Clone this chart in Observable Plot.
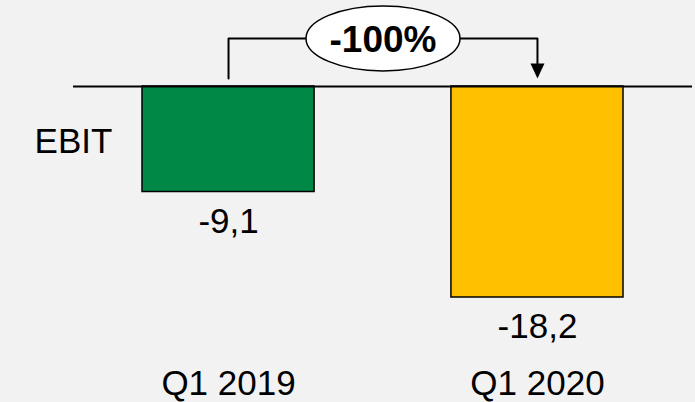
<!DOCTYPE html>
<html><head><meta charset="utf-8">
<script src="https://cdn.jsdelivr.net/npm/d3@7"></script>
<script src="https://cdn.jsdelivr.net/npm/@observablehq/plot@0.6"></script>
<style>html,body{margin:0;padding:0;background:#f2f2f2;}</style>
</head><body><div id="chart"></div>
<script>
const categories = ["Q1 2019", "Q1 2020"];
const values = [-9.1, -18.2];
const barColors = ["#008846", "#FFC000"];
const rowLabel = "EBIT";
const changeLabel = "-100%";
const bracketTop = 4.15;   // bracket height above zero (data units)
const bracketFoot = 0.7;   // bracket ends just above the zero line

const data = categories.map((c, i) => ({cat: c, value: values[i]}));
const bracket = [
  {cat: categories[0], y: bracketFoot},
  {cat: categories[0], y: bracketTop},
  {cat: categories[1], y: bracketTop},
  {cat: categories[1], y: bracketFoot + 0.9}
];

const W = 695, H = 402;
const xRange = [142, 623], padIn = 0.443;
const step = (xRange[1] - xRange[0]) / (categories.length - padIn);
const font = "Arial, 'Liberation Sans', sans-serif";

const ellipseSymbol = {draw(ctx) {
  const rx = 77, ry = 32.5, k = 0.5523;
  ctx.moveTo(rx, 0);
  ctx.bezierCurveTo(rx, ry * k, rx * k, ry, 0, ry);
  ctx.bezierCurveTo(-rx * k, ry, -rx, ry * k, -rx, 0);
  ctx.bezierCurveTo(-rx, -ry * k, -rx * k, -ry, 0, -ry);
  ctx.bezierCurveTo(rx * k, -ry, rx, -ry * k, rx, 0);
  ctx.closePath();
}};
const arrowSymbol = {draw(ctx) {
  ctx.moveTo(0, 0); ctx.lineTo(-7, -15); ctx.lineTo(7, -15); ctx.closePath();
}};

const chart = Plot.plot({
  width: W, height: H,
  marginLeft: 73, marginRight: 3, marginTop: 0, marginBottom: 35,
  style: {background: "#f2f2f2", fontFamily: font, fontSize: "35px", color: "black"},
  x: {domain: categories, range: xRange, paddingInner: padIn, paddingOuter: 0, round: false,
      tickSize: 0, tickPadding: 3, label: null},
  y: {domain: [0, -18.2], range: [86, 297], axis: null},
  color: {domain: categories, range: barColors},
  marks: [
    Plot.barY(data, {x: "cat", y: "value", fill: "cat", stroke: "black", strokeWidth: 1.5}),
    Plot.ruleY([0], {stroke: "black", strokeWidth: 2}),
    Plot.text(data, {x: "cat", y: "value", text: d => d.value.toFixed(1).replace(".", ","),
      lineAnchor: "top", dy: 16, fontSize: 35, fill: "black"}),
    Plot.text([rowLabel], {frameAnchor: "left", y: values[0] / 2, text: d => d,
      textAnchor: "middle", lineAnchor: "middle", dy: 3, fontSize: 35, fill: "black"}),
    Plot.line(bracket, {x: "cat", y: "y", stroke: "black", strokeWidth: 2}),
    Plot.dot([categories[1]], {x: d => d, y: bracketFoot, symbol: arrowSymbol, fill: "black", stroke: "none"}),
    Plot.dot([changeLabel], {x: () => categories[0], y: bracketTop, dx: step / 2,
      symbol: ellipseSymbol, fill: "white", stroke: "black", strokeWidth: 1.5}),
    Plot.text([changeLabel], {x: () => categories[0], y: bracketTop, dx: step / 2, text: d => d,
      textAnchor: "middle", lineAnchor: "middle", dy: 2, fontSize: 37, fontWeight: "bold", fill: "black"})
  ]
});
document.getElementById("chart").appendChild(chart);
</script>
</body></html>
